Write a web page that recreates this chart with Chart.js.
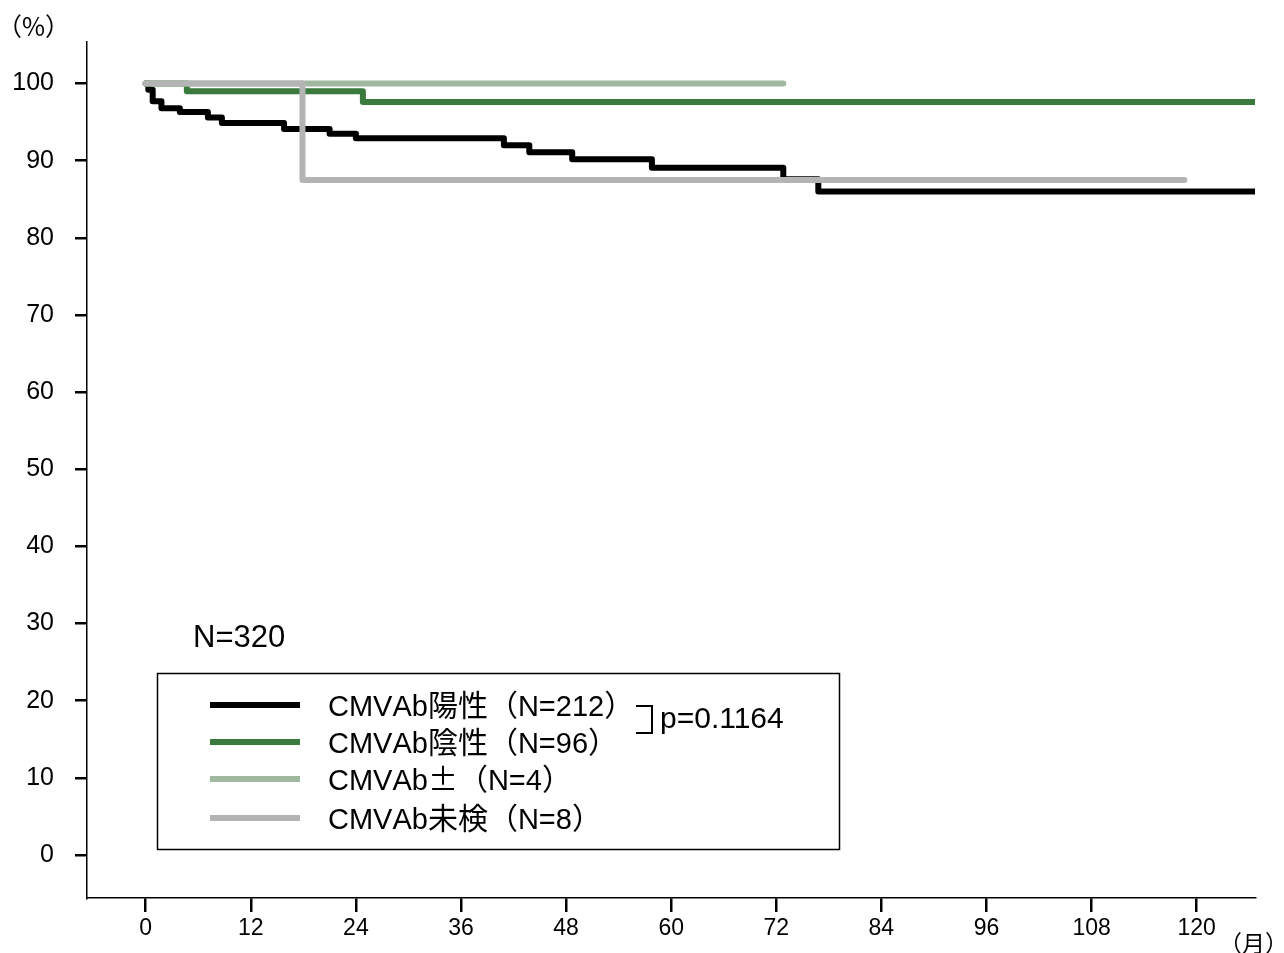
<!DOCTYPE html>
<html>
<head>
<meta charset="utf-8">
<script src="https://cdn.jsdelivr.net/npm/chart.js@4.4.0/dist/chart.umd.min.js"></script>
<style>
  html, body { margin: 0; padding: 0; background: #fff; }
</style>
</head>
<body>
<canvas id="km" width="1284" height="953"></canvas>
<script>
// 目盛り
const xTicks = [0, 12, 24, 36, 48, 60, 72, 84, 96, 108, 120];
const yTicks = [0, 10, 20, 30, 40, 50, 60, 70, 80, 90, 100];

// CMVAb陽性 (月, %)
const posMonths = [0, 0.3, 0.8, 1.8, 3.9, 7.1, 8.7, 15.8, 21.0, 24.0, 40.9, 43.8, 48.7, 57.8, 72.8, 76.8, 126.6];
const posSurv   = [100, 99.2, 97.7, 96.8, 96.3, 95.6, 94.9, 94.1, 93.5, 92.9, 92.0, 91.1, 90.2, 89.1, 87.6, 86.0, 86.0];
// CMVAb陰性
const negMonths = [0, 4.7, 24.8, 126.6];
const negSurv   = [100, 99.0, 97.6, 97.6];
// CMVAb±
const pmMonths = [0, 72.8];
const pmSurv   = [100, 100];
// CMVAb未検
const untestedMonths = [0, 17.9, 118.6];
const untestedSurv   = [100, 87.5, 87.5];

const labels = ['CMVAb陽性（N=212）', 'CMVAb陰性（N=96）', 'CMVAb±（N=4）', 'CMVAb未検（N=8）'];
const colors = ['#000000', '#3b7a3d', '#a0b8a0', '#b4b4b4'];

const pts = (xs, ys) => xs.map((x, i) => ({ x: x, y: ys[i] }));

const jp = '"Noto Sans CJK JP", "Liberation Sans", sans-serif';
const sans = '"Liberation Sans", "Noto Sans CJK JP", Arial, sans-serif';

function line(data, i, order) {
  return {
    label: labels[i],
    data: data,
    borderColor: colors[i],
    borderWidth: 6,
    stepped: true,
    pointRadius: 0,
    fill: false,
    borderJoinStyle: 'round',
    borderCapStyle: 'round',
    order: order
  };
}

// 全角文字だけ和文フォントで描く（ベースラインを揃える）
function mixedText(c, str, x, y) {
  c.textBaseline = 'alphabetic';
  for (const ch of str) {
    const wide = /[^\x00-\x7f]/.test(ch);
    c.font = wide ? '30px ' + jp : '29px ' + sans;
    c.fillText(ch, x, y);
    x += c.measureText(ch).width;
  }
  c.textBaseline = 'middle';
}

// 凡例などの注記
const notes = {
  id: 'notes',
  afterDraw(chart) {
    const c = chart.ctx;
    c.save();
    c.fillStyle = '#000';
    c.strokeStyle = '#000';
    c.textBaseline = 'middle';

    c.font = '25px ' + jp;
    c.fillText('（%）', -3, 26);
    c.font = '23px ' + jp;
    c.fillText('（月）', 1219, 943);

    c.font = '31px ' + sans;
    c.fillText('N=320', 193, 638);

    c.lineWidth = 1.5;
    c.strokeRect(157.5, 673.5, 682, 176);

    const rows = [705, 742, 779, 818];
    rows.forEach((y, i) => {
      c.beginPath();
      c.lineWidth = 6;
      c.strokeStyle = colors[i];
      c.moveTo(210, y);
      c.lineTo(300, y);
      c.stroke();
      mixedText(c, labels[i], 328, y + 11);
    });

    // p値のかっこ
    c.strokeStyle = '#000';
    c.lineWidth = 2;
    c.beginPath();
    c.moveTo(636, 706);
    c.lineTo(652, 706);
    c.lineTo(652, 733);
    c.lineTo(636, 733);
    c.stroke();
    c.font = '30px ' + sans;
    c.fillText('p=0.1164', 660, 720);
    c.restore();
  }
};

new Chart(document.getElementById('km'), {
  type: 'line',
  data: {
    datasets: [
      line(pts(posMonths, posSurv), 0, 4),
      line(pts(negMonths, negSurv), 1, 3),
      line(pts(pmMonths, pmSurv), 2, 2),
      line(pts(untestedMonths, untestedSurv), 3, 1)
    ]
  },
  options: {
    responsive: false,
    animation: false,
    devicePixelRatio: 1,
    layout: { padding: { top: 42, right: 29, left: 0, bottom: 0 } },
    plugins: { legend: { display: false }, tooltip: { enabled: false } },
    scales: {
      x: {
        type: 'linear',
        min: -6.7,
        max: 126.66,
        afterBuildTicks: s => { s.ticks = xTicks.map(v => ({ value: v })); },
        afterFit: s => { s.height = 55; },
        grid: { drawOnChartArea: false, tickLength: 14, color: '#000', lineWidth: 2.5 },
        border: { color: '#000', width: 1.5 },
        ticks: { color: '#000', font: { family: sans, size: 23 }, padding: 3, maxRotation: 0, autoSkip: false }
      },
      y: {
        min: -5.57,
        max: 105.39,
        afterBuildTicks: s => { s.ticks = yTicks.map(v => ({ value: v })); },
        afterFit: s => { s.width = 87; },
        grid: { drawOnChartArea: false, tickLength: 12, color: '#000', lineWidth: 2.5 },
        border: { color: '#000', width: 1.5 },
        ticks: { color: '#000', font: { family: sans, size: 25 }, padding: 21, autoSkip: false }
      }
    }
  },
  plugins: [notes]
});
</script>
</body>
</html>
